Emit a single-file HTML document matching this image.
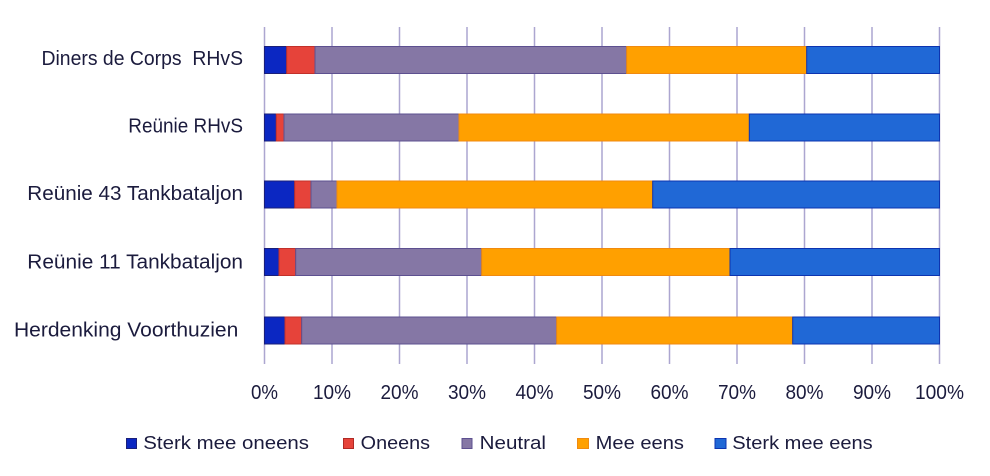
<!DOCTYPE html>
<html>
<head>
<meta charset="utf-8">
<style>
  html,body{margin:0;padding:0;background:#fff;}
  svg{display:block;}
  text{font-family:"Liberation Sans", sans-serif; fill:#1b1b3d; white-space:pre;}
</style>
</head>
<body>
<svg width="990" height="476" viewBox="0 0 990 476" xmlns="http://www.w3.org/2000/svg">
  <rect width="990" height="476" fill="#fff"/>
  <!-- gridlines -->
  <g stroke="#aca6d0" stroke-width="1.5">
    <line x1="264.5" y1="27" x2="264.5" y2="364"/>
    <line x1="332" y1="27" x2="332" y2="364"/>
    <line x1="399.5" y1="27" x2="399.5" y2="364"/>
    <line x1="467" y1="27" x2="467" y2="364"/>
    <line x1="534.5" y1="27" x2="534.5" y2="364"/>
    <line x1="602" y1="27" x2="602" y2="364"/>
    <line x1="669.5" y1="27" x2="669.5" y2="364"/>
    <line x1="737" y1="27" x2="737" y2="364"/>
    <line x1="804.5" y1="27" x2="804.5" y2="364"/>
    <line x1="872" y1="27" x2="872" y2="364"/>
    <line x1="939.5" y1="27" x2="939.5" y2="364"/>
  </g>

  <!-- bars -->
  <g stroke-width="1">
    <!-- Row 1 -->
    <rect x="264.5" y="46.5" width="22.2" height="27" fill="#0b27c2" stroke="#1a1f7a"/>
    <rect x="286.7" y="46.5" width="28.3" height="27" fill="#e6433a" stroke="#c2302a"/>
    <rect x="315" y="46.5" width="311.7" height="27" fill="#8577a5" stroke="#5d5090"/>
    <rect x="626.7" y="46.5" width="180" height="27" fill="#ffa000" stroke="#f08a10"/>
    <rect x="806.7" y="46.5" width="132.8" height="27" fill="#2068d6" stroke="#0d34b0"/>
    <!-- Row 2 -->
    <rect x="264.5" y="114" width="11.8" height="27" fill="#0b27c2" stroke="#1a1f7a"/>
    <rect x="276.3" y="114" width="7.7" height="27" fill="#e6433a" stroke="#c2302a"/>
    <rect x="284" y="114" width="175" height="27" fill="#8577a5" stroke="#5d5090"/>
    <rect x="459" y="114" width="290.3" height="27" fill="#ffa000" stroke="#f08a10"/>
    <rect x="749.3" y="114" width="190.2" height="27" fill="#2068d6" stroke="#0d34b0"/>
    <!-- Row 3 -->
    <rect x="264.5" y="181" width="30.2" height="27" fill="#0b27c2" stroke="#1a1f7a"/>
    <rect x="294.7" y="181" width="16.3" height="27" fill="#e6433a" stroke="#c2302a"/>
    <rect x="311" y="181" width="26" height="27" fill="#8577a5" stroke="#5d5090"/>
    <rect x="337" y="181" width="315.7" height="27" fill="#ffa000" stroke="#f08a10"/>
    <rect x="652.7" y="181" width="286.8" height="27" fill="#2068d6" stroke="#0d34b0"/>
    <!-- Row 4 -->
    <rect x="264.5" y="248.5" width="14.5" height="27" fill="#0b27c2" stroke="#1a1f7a"/>
    <rect x="279" y="248.5" width="16.7" height="27" fill="#e6433a" stroke="#c2302a"/>
    <rect x="295.7" y="248.5" width="186" height="27" fill="#8577a5" stroke="#5d5090"/>
    <rect x="481.7" y="248.5" width="248.3" height="27" fill="#ffa000" stroke="#f08a10"/>
    <rect x="730" y="248.5" width="209.5" height="27" fill="#2068d6" stroke="#0d34b0"/>
    <!-- Row 5 -->
    <rect x="264.5" y="317" width="20.5" height="27" fill="#0b27c2" stroke="#1a1f7a"/>
    <rect x="285" y="317" width="16.7" height="27" fill="#e6433a" stroke="#c2302a"/>
    <rect x="301.7" y="317" width="255" height="27" fill="#8577a5" stroke="#5d5090"/>
    <rect x="556.7" y="317" width="236" height="27" fill="#ffa000" stroke="#f08a10"/>
    <rect x="792.7" y="317" width="146.8" height="27" fill="#2068d6" stroke="#0d34b0"/>
  </g>

  <!-- category labels -->
  <g font-size="20" text-anchor="end">
    <text x="243" y="65" textLength="201.5" lengthAdjust="spacingAndGlyphs">Diners de Corps  RHvS</text>
    <text x="243" y="132.7" textLength="114.7" lengthAdjust="spacingAndGlyphs">Reünie RHvS</text>
    <text x="243" y="200" textLength="215.7" lengthAdjust="spacingAndGlyphs">Reünie 43 Tankbataljon</text>
    <text x="243" y="268.3" textLength="215.7" lengthAdjust="spacingAndGlyphs">Reünie 11 Tankbataljon</text>
    <text x="238.3" y="336.7" textLength="224.3" lengthAdjust="spacingAndGlyphs">Herdenking Voorthuzien</text>
  </g>

  <!-- tick labels -->
  <g font-size="20" text-anchor="middle">
    <text x="264.5" y="399" textLength="27" lengthAdjust="spacingAndGlyphs">0%</text>
    <text x="332" y="399" textLength="38" lengthAdjust="spacingAndGlyphs">10%</text>
    <text x="399.5" y="399" textLength="38" lengthAdjust="spacingAndGlyphs">20%</text>
    <text x="467" y="399" textLength="38" lengthAdjust="spacingAndGlyphs">30%</text>
    <text x="534.5" y="399" textLength="38" lengthAdjust="spacingAndGlyphs">40%</text>
    <text x="602" y="399" textLength="38" lengthAdjust="spacingAndGlyphs">50%</text>
    <text x="669.5" y="399" textLength="38" lengthAdjust="spacingAndGlyphs">60%</text>
    <text x="737" y="399" textLength="38" lengthAdjust="spacingAndGlyphs">70%</text>
    <text x="804.5" y="399" textLength="38" lengthAdjust="spacingAndGlyphs">80%</text>
    <text x="872" y="399" textLength="38" lengthAdjust="spacingAndGlyphs">90%</text>
    <text x="939.5" y="399" textLength="49" lengthAdjust="spacingAndGlyphs">100%</text>
  </g>

  <!-- legend -->
  <g stroke-width="1">
    <rect x="126.5" y="438.5" width="10" height="10" fill="#0b27c2" stroke="#1a1f7a"/>
    <rect x="343.5" y="438.5" width="10" height="10" fill="#e6433a" stroke="#b02a25"/>
    <rect x="462" y="438.5" width="10" height="10" fill="#8577a5" stroke="#5d5090"/>
    <rect x="577.5" y="438.5" width="11" height="10" fill="#ffa000" stroke="#f08a10"/>
    <rect x="715" y="438.5" width="11" height="10" fill="#2068d6" stroke="#0d34b0"/>
  </g>
  <g font-size="18">
    <text x="143.3" y="449" textLength="165.7" lengthAdjust="spacingAndGlyphs">Sterk mee oneens</text>
    <text x="360.7" y="449" textLength="69.3" lengthAdjust="spacingAndGlyphs">Oneens</text>
    <text x="479.7" y="449" textLength="66.3" lengthAdjust="spacingAndGlyphs">Neutral</text>
    <text x="595.7" y="449" textLength="88.3" lengthAdjust="spacingAndGlyphs">Mee eens</text>
    <text x="732.3" y="449" textLength="140.4" lengthAdjust="spacingAndGlyphs">Sterk mee eens</text>
  </g>
</svg>
</body>
</html>
